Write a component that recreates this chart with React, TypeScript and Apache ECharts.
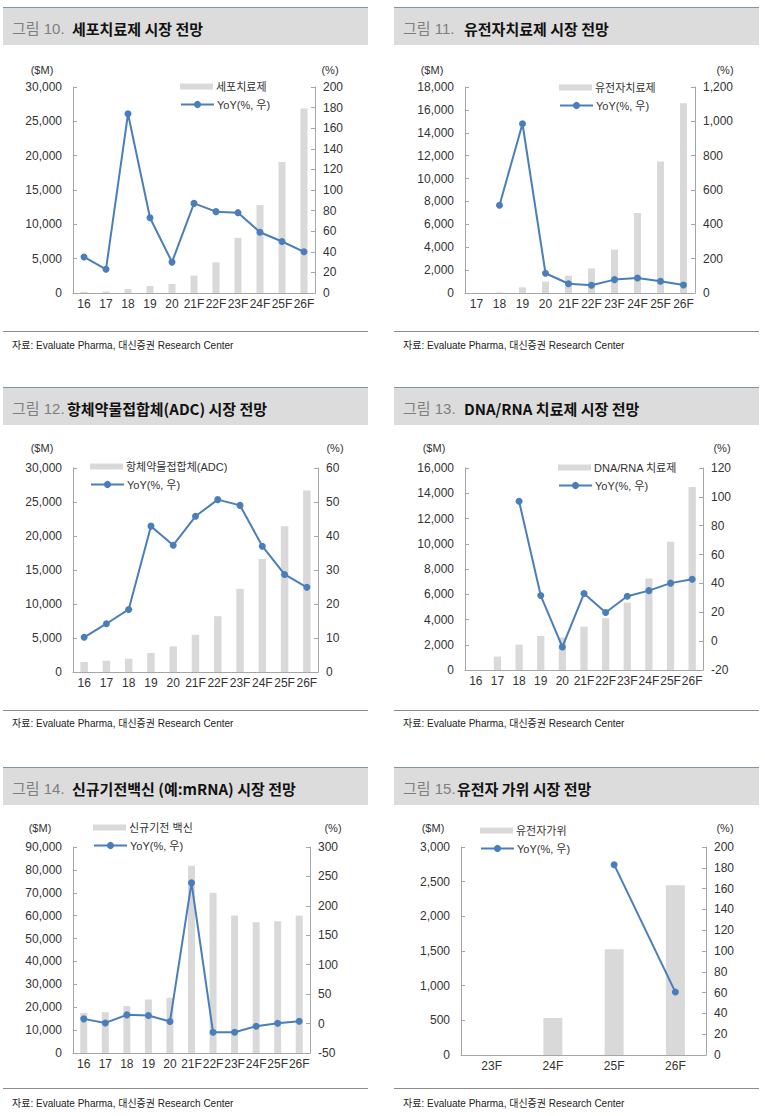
import React, { useEffect, useRef } from "react";
import * as echarts from "echarts";

// ---------- data ----------
const cellCats = ["16", "17", "18", "19", "20", "21F", "22F", "23F", "24F", "25F", "26F"];
const cellSales = [170, 210, 580, 1020, 1310, 2530, 4480, 8040, 12800, 19090, 26880];
const cellYoY = [35, 23, 174, 73, 30, 87, 79, 78, 59, 50, 40];
const cellLeftTicks = [0, 30000, 5000];
const cellRightTicks = [0, 200, 20];

const geneCats = ["17", "18", "19", "20", "21F", "22F", "23F", "24F", "25F", "26F"];
const geneSales = [8, 46, 495, 990, 1510, 2150, 3790, 6990, 11480, 16570];
const geneYoY = [null, 511, 986, 115, 54, 45, 78, 87, 68, 47];
const geneLeftTicks = [0, 18000, 2000];
const geneRightTicks = [0, 1200, 200];

const adcCats = ["16", "17", "18", "19", "20", "21F", "22F", "23F", "24F", "25F", "26F"];
const adcSales = [1470, 1660, 1950, 2790, 3760, 5470, 8210, 12220, 16610, 21450, 26680];
const adcYoY = [10.2, 14.2, 18.4, 42.9, 37.3, 45.8, 50.7, 49.0, 37.0, 28.7, 24.9];
const adcLeftTicks = [0, 30000, 5000];
const adcRightTicks = [0, 60, 10];

const nucCats = ["16", "17", "18", "19", "20", "21F", "22F", "23F", "24F", "25F", "26F"];
const nucSales = [0, 1060, 2010, 2700, 2570, 3440, 4100, 5340, 7250, 10160, 14490];
const nucYoY = [null, null, 96.9, 31.6, -4, 33, 19.8, 31.1, 35, 40.2, 42.9];
const nucLeftTicks = [0, 16000, 2000];
const nucRightTicks = [-20, 120, 20];

const vacCats = ["16", "17", "18", "19", "20", "21F", "22F", "23F", "24F", "25F", "26F"];
const vacSales = [17530, 17830, 20460, 23380, 24110, 81820, 69980, 60050, 57130, 57570, 60050];
const vacYoY = [8, 1.1, 14.8, 13.6, 3.4, 239, -14.8, -14.8, -4.5, 0.6, 4];
const vacLeftTicks = [0, 90000, 10000];
const vacRightTicks = [-50, 300, 50];

const crisprCats = ["23F", "24F", "25F", "26F"];
const crisprSales = [0, 535, 1524, 2450];
const crisprYoY = [null, null, 183, 60.5];
const crisprLeftTicks = [0, 3000, 500];
const crisprRightTicks = [0, 200, 20];

const figNums = ["그림 10.", "그림 11.", "그림 12.", "그림 13.", "그림 14.", "그림 15."];
const figTitles = [
  "세포치료제 시장 전망",
  "유전자치료제 시장 전망",
  "항체약물접합체(ADC) 시장 전망",
  "DNA/RNA 치료제 시장 전망",
  "신규기전백신 (예:mRNA) 시장 전망",
  "유전자 가위 시장 전망",
];
const barNames = ["세포치료제", "유전자치료제", "항체약물접합체(ADC)", "DNA/RNA 치료제", "신규기전 백신", "유전자가위"];
const lineName = "YoY(%, 우)";
const sourceText = "자료: Evaluate Pharma, 대신증권 Research Center";
const leftUnit = "($M)";
const rightUnit = "(%)";

const panelsData = [
  { cats: cellCats, bars: cellSales, yoy: cellYoY, lt: cellLeftTicks, rt: cellRightTicks },
  { cats: geneCats, bars: geneSales, yoy: geneYoY, lt: geneLeftTicks, rt: geneRightTicks },
  { cats: adcCats, bars: adcSales, yoy: adcYoY, lt: adcLeftTicks, rt: adcRightTicks },
  { cats: nucCats, bars: nucSales, yoy: nucYoY, lt: nucLeftTicks, rt: nucRightTicks },
  { cats: vacCats, bars: vacSales, yoy: vacYoY, lt: vacLeftTicks, rt: vacRightTicks },
  { cats: crisprCats, bars: crisprSales, yoy: crisprYoY, lt: crisprLeftTicks, rt: crisprRightTicks },
];

// ---------- layout ----------
const layout = [
  { gl: 73, gr: 315, gt: 87, gb: 293, bw: 7, ly: 87, lx: 180, tb: 7, fl: 331, ft: 345, ulx: 42, urx: 330, uy: 70, px: 0, tx: 72 },
  { gl: 465, gr: 695, gt: 87, gb: 293, bw: 7, ly: 88, lx: 559, tb: 7, fl: 331, ft: 345, ulx: 432, urx: 725, uy: 70, px: 391, tx: 464 },
  { gl: 73, gr: 318, gt: 468, gb: 672, bw: 7.5, ly: 467, lx: 90, tb: 387, fl: 710, ft: 723, ulx: 42, urx: 335, uy: 448, px: 0, tx: 67 },
  { gl: 465, gr: 703, gt: 468, gb: 670, bw: 7.3, ly: 468, lx: 558, tb: 387, fl: 710, ft: 723, ulx: 434, urx: 722, uy: 448, px: 391, tx: 464 },
  { gl: 73, gr: 310, gt: 847, gb: 1053, bw: 7, ly: 828, lx: 93, tb: 767, fl: 1088, ft: 1103, ulx: 40, urx: 333, uy: 828, px: 0, tx: 72 },
  { gl: 461, gr: 706, gt: 847, gb: 1055, bw: 19, ly: 831, lx: 480, tb: 767, fl: 1088, ft: 1103, ulx: 433, urx: 725, uy: 828, px: 391, tx: 457 },
];

const FONT = "'Liberation Sans', Arial, 'Noto Sans CJK KR', sans-serif";
const KFONT = "'Noto Sans CJK KR', 'Liberation Sans', sans-serif";
const BAR = "#d9d9d9";
const BLUE = "#4a7ebb";
const AXIS = "#a6a6a6";
const TXT = "#333333";

function buildOption() {
  const grid: any[] = [];
  const xAxis: any[] = [];
  const yAxis: any[] = [];
  const series: any[] = [];
  const legend: any[] = [];
  const graphic: any[] = [];
  const fmt = (v: number) => v.toLocaleString("en-US");

  panelsData.forEach((p, i) => {
    const L = layout[i];
    grid.push({ left: L.gl, top: L.gt, width: L.gr - L.gl, height: L.gb - L.gt, outerBoundsMode: "none" });
    xAxis.push({
      type: "category",
      gridIndex: i,
      data: p.cats,
      axisLine: { onZero: false, lineStyle: { color: AXIS } },
      axisTick: { inside: true, length: 4, lineStyle: { color: AXIS } },
      axisLabel: { interval: 0, margin: 5, color: TXT, fontSize: 12, fontFamily: FONT },
    });
    yAxis.push({
      type: "value",
      gridIndex: i,
      position: "left",
      min: p.lt[0],
      max: p.lt[1],
      interval: p.lt[2],
      splitLine: { show: false },
      axisLine: { show: true, lineStyle: { color: AXIS } },
      axisTick: { show: true, inside: true, length: 4, lineStyle: { color: AXIS } },
      axisLabel: { margin: 11, color: TXT, fontSize: 12, fontFamily: FONT, formatter: fmt },
    });
    yAxis.push({
      type: "value",
      gridIndex: i,
      position: "right",
      min: p.rt[0],
      max: p.rt[1],
      interval: p.rt[2],
      splitLine: { show: false },
      axisLine: { show: true, lineStyle: { color: AXIS } },
      axisTick: { show: true, inside: true, length: 4, lineStyle: { color: AXIS } },
      axisLabel: { margin: 8, color: TXT, fontSize: 12, fontFamily: FONT, formatter: fmt },
    });
    series.push({
      type: "bar",
      name: barNames[i],
      xAxisIndex: i,
      yAxisIndex: i * 2,
      data: p.bars,
      barWidth: L.bw,
      itemStyle: { color: BAR },
      z: 2,
    });
    series.push({
      type: "line",
      name: lineName,
      xAxisIndex: i,
      yAxisIndex: i * 2 + 1,
      data: p.yoy,
      symbol: "circle",
      symbolSize: 7,
      connectNulls: false,
      lineStyle: { color: BLUE, width: 2 },
      itemStyle: { color: BLUE },
      z: 3,
    });
    legend.push({
      left: L.lx,
      top: L.ly - 6,
      padding: 0,
      itemWidth: 33,
      itemHeight: 6,
      data: [{ name: barNames[i], icon: "rect" }],
      textStyle: { fontSize: 11, color: TXT, fontFamily: FONT, padding: [0, 0, 0, -2] },
      selectedMode: false,
    });
    legend.push({
      left: L.lx,
      top: L.ly + 18 - 6,
      padding: 0,
      itemWidth: 33,
      itemHeight: 9,
      data: [lineName],
      textStyle: { fontSize: 11, color: TXT, fontFamily: FONT, padding: [0, 0, 0, -2] },
      selectedMode: false,
    });

    // title bar
    const bx = L.px + 3;
    graphic.push({
      type: "rect",
      shape: { x: bx, y: L.tb, width: 365, height: 38 },
      style: { fill: "#dcdcdc" },
      z: 0,
    });
    graphic.push({
      type: "line",
      shape: { x1: bx, y1: L.tb + 0.5, x2: bx + 365, y2: L.tb + 0.5 },
      style: { stroke: "#8395ab", lineWidth: 1 },
    });
    graphic.push({
      type: "text",
      x: L.px + 12,
      y: L.tb + 21,
      style: { text: figNums[i], fill: "#7f7f7f", fontSize: 15, fontFamily: FONT, verticalAlign: "middle" },
    });
    graphic.push({
      type: "text",
      x: L.tx,
      y: L.tb + 21,
      style: { text: figTitles[i], fill: "#111111", fontSize: 15, fontWeight: "bold", fontFamily: KFONT, verticalAlign: "middle" },
    });
    // units
    graphic.push({
      type: "text",
      x: L.ulx,
      y: L.uy,
      style: { text: leftUnit, fill: TXT, fontSize: 11, fontFamily: FONT, align: "center", verticalAlign: "middle" },
    });
    graphic.push({
      type: "text",
      x: L.urx,
      y: L.uy,
      style: { text: rightUnit, fill: TXT, fontSize: 11, fontFamily: FONT, align: "center", verticalAlign: "middle" },
    });
    // footer
    graphic.push({
      type: "line",
      shape: { x1: bx, y1: L.fl + 0.5, x2: bx + 365, y2: L.fl + 0.5 },
      style: { stroke: "#8c8c8c", lineWidth: 1 },
    });
    graphic.push({
      type: "text",
      x: L.px + 12,
      y: L.ft,
      style: { text: sourceText, fill: "#222222", fontSize: 10, fontFamily: FONT, verticalAlign: "middle" },
    });
  });

  return {
    animation: false,
    backgroundColor: "#ffffff",
    grid,
    xAxis,
    yAxis,
    series,
    legend,
    graphic,
  };
}

export default function App() {
  const ref = useRef<HTMLDivElement>(null);
  useEffect(() => {
    if (!ref.current) return;
    const chart = echarts.init(ref.current, undefined, { renderer: "svg" });
    chart.setOption(buildOption() as any);
    return () => chart.dispose();
  }, []);
  return (
    <div
      ref={ref}
      style={{ position: "absolute", left: 0, top: 0, width: 765, height: 1116, background: "#fff" }}
    />
  );
}
